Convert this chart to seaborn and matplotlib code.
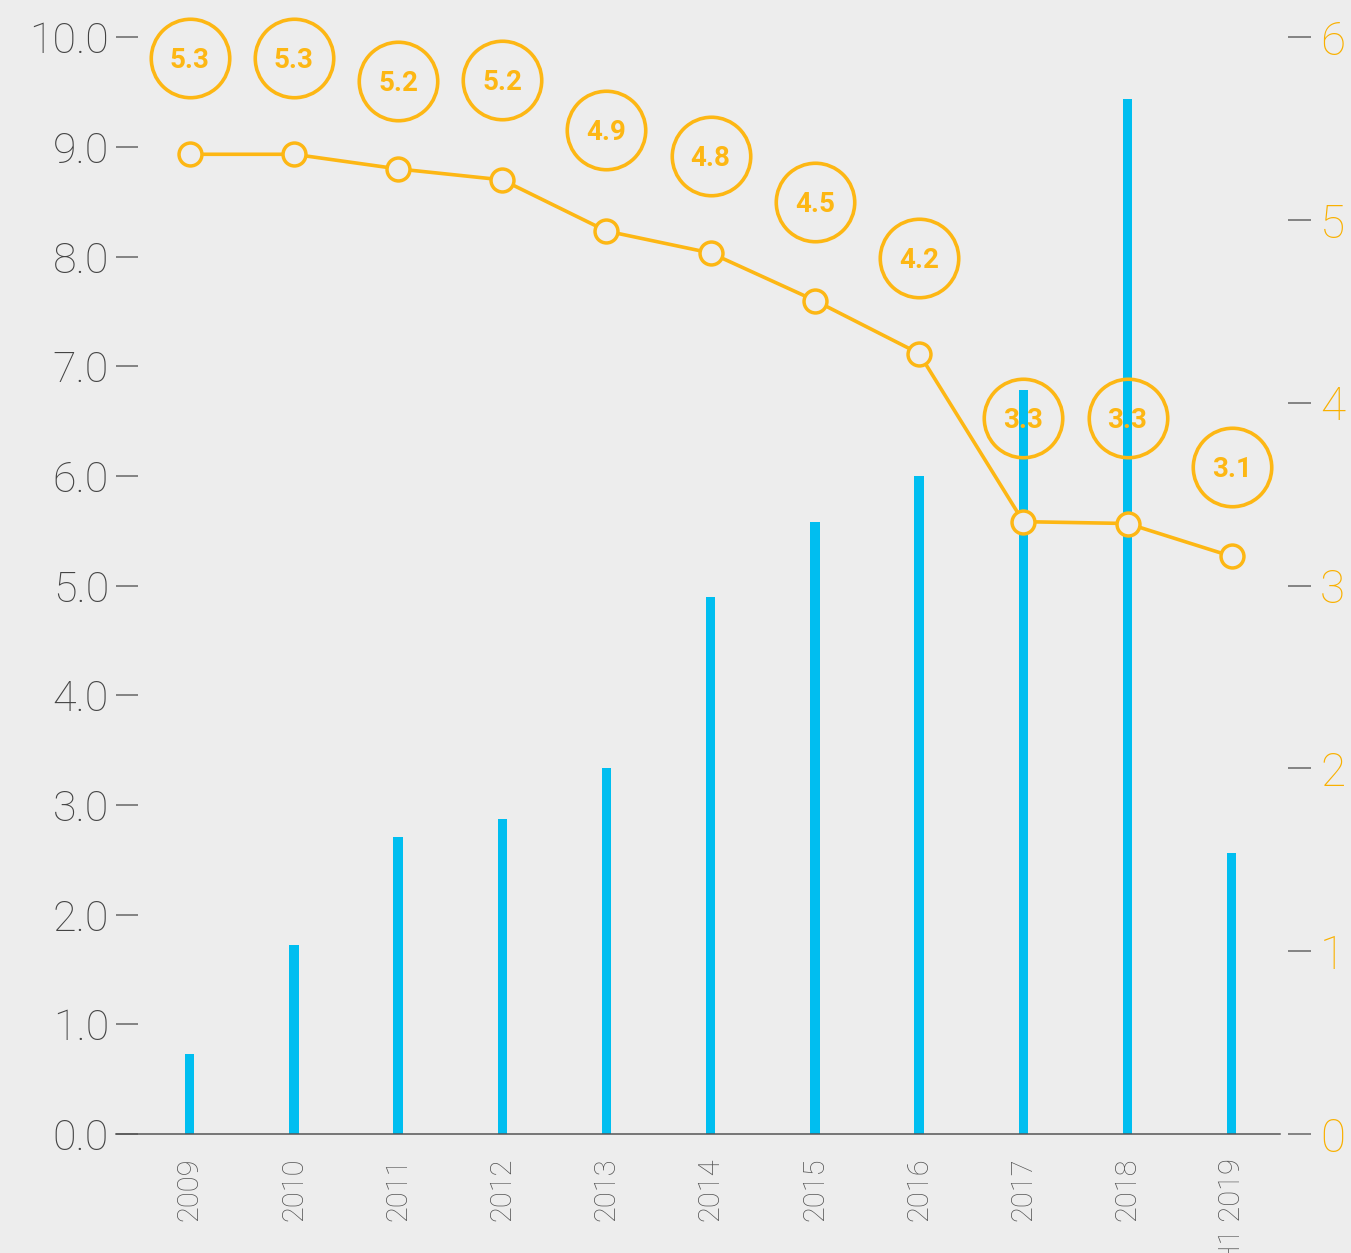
import numpy as np
import pandas as pd
import matplotlib
matplotlib.use("Agg")
import matplotlib.pyplot as plt
import matplotlib.transforms as mtransforms
import seaborn as sns

# ---------------- data ----------------
categories = ["2009", "2010", "2011", "2012", "2013", "2014", "2015",
              "2016", "2017", "2018", "H1 2019"]
bar_values = [0.73, 1.72, 2.71, 2.87, 3.34, 4.90, 5.58, 6.00, 6.78, 9.44, 2.56]
line_values = [5.36, 5.36, 5.28, 5.22, 4.94, 4.82, 4.56, 4.27, 3.35, 3.34, 3.16]
line_labels = ["5.3", "5.3", "5.2", "5.2", "4.9", "4.8", "4.5", "4.2",
               "3.3", "3.3", "3.1"]
left_ticks = [0, 1, 2, 3, 4, 5, 6, 7, 8, 9, 10]
right_ticks = [0, 1, 2, 3, 4, 5, 6]

# label bubble offsets above each point (pixels) - layout only
label_offsets_px = [96, 96, 88, 100, 101, 97, 99, 96, 104, 106, 89]

# ---------------- style ----------------
BG = "#EDEDED"
BLUE = "#00BEF0"
ORANGE = "#FDB714"
TICK = "#666666"

sns.set_style("white", {"axes.facecolor": BG, "figure.facecolor": BG})
plt.rcParams["font.family"] = ["Roboto", "DejaVu Sans"]

W, H = 1351, 1253
fig = plt.figure(figsize=(W / 100, H / 100), dpi=100)
fig.patch.set_facecolor(BG)
left_px, right_px, top_px, bottom_px = 116, 1288, 37.3, 1134
ax = fig.add_axes([left_px / W, 1 - bottom_px / H,
                   (right_px - left_px) / W, (bottom_px - top_px) / H])
ax.set_facecolor(BG)

df = pd.DataFrame({"cat": categories, "bar": bar_values, "line": line_values})
df["pos"] = np.arange(len(categories))

sns.barplot(data=df, x="cat", y="bar", color=BLUE, saturation=1,
            width=0.09, linewidth=0, ax=ax, zorder=2)

ax2 = ax.twinx()
sns.lineplot(data=df, x="pos", y="line", ax=ax2, color=ORANGE, lw=2.6,
             marker="o", markersize=16.5, markerfacecolor=BG,
             markeredgecolor=ORANGE, markeredgewidth=2.5, zorder=3)

# bubbles with labels
for i, (v, lab, off) in enumerate(zip(line_values, line_labels, label_offsets_px)):
    tr = mtransforms.offset_copy(ax2.transData, fig=fig, x=0, y=off, units="dots")
    ax2.plot([i], [v], marker="o", ms=56.5, mfc="none", mec=ORANGE, mew=2.6,
             transform=tr, clip_on=False, zorder=4)
    trt = mtransforms.offset_copy(ax2.transData, fig=fig, x=0, y=off - 10,
                                  units="dots")
    ax2.text(i, v, lab, transform=trt, ha="center", va="baseline",
             fontsize=20, fontweight="bold", color=ORANGE, zorder=5,
             clip_on=False)

# ---------------- axes ----------------
XMIN, XMAX = -0.707, 10.54
ax.set_ylim(0, 10)
ax2.set_ylim(0, 6)
ax.set_xlim(XMIN, XMAX)

ax.set_yticks(left_ticks)
ax.set_yticklabels([f"{t:.1f}" for t in left_ticks])
ax2.set_yticks(right_ticks)
ax2.set_yticklabels([str(t) for t in right_ticks])

ax.tick_params(axis="y", direction="in", length=16, width=1.1, color=TICK,
               pad=5, labelsize=31, labelcolor="#444444", left=True)
ax.tick_params(axis="x", length=0, pad=17, labelsize=21, labelcolor="#555555",
               labelrotation=90)
ax2.tick_params(axis="y", direction="out", length=16.5, width=1.1, color=TICK,
                pad=6.5, labelsize=33, labelcolor="#F9B000", right=True)

for lab in ax.get_yticklabels() + ax.get_xticklabels() + ax2.get_yticklabels():
    lab.set_fontweight("light")

for s in ["top", "left", "right"]:
    ax.spines[s].set_visible(False)
ax.spines["bottom"].set_color("#555555")
ax.spines["bottom"].set_linewidth(1.1)
ax.spines["bottom"].set_bounds(XMIN, 10.46)
for s in ax2.spines.values():
    s.set_visible(False)

ax.set_xlabel("")
ax.set_ylabel("")
ax2.set_xlabel("")
ax2.set_ylabel("")
ax.set_xlim(XMIN, XMAX)

fig.savefig("out.png", dpi=100, facecolor=BG)
